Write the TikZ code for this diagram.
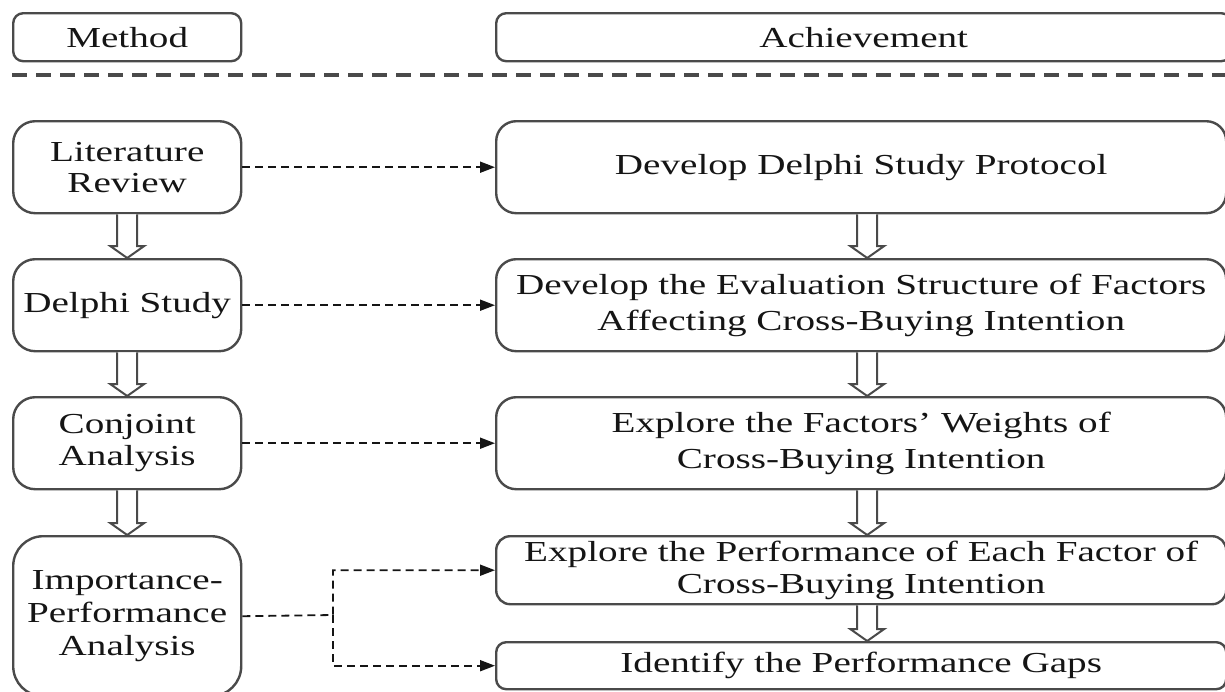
\documentclass[tikz,border=0pt]{standalone}
\usepackage{fontspec}
\setmainfont{Liberation Serif}[FakeStretch=1.35]
\usetikzlibrary{arrows.meta,calc}
\definecolor{bord}{HTML}{4A4A4A}
\definecolor{txt}{HTML}{151515}
\newcommand\blockarr[3][0]{%
  \draw[blk] let \p1=($(#2.south)+(#1,0)$), \p2=(#3.north) in
    (\x1-10pt,\y1) -- (\x1-10pt,\y2+12pt) -- (\x1-17pt,\y2+12pt) -- (\x1,\y2)
    -- (\x1+17pt,\y2+12pt) -- (\x1+10pt,\y2+12pt) -- (\x1+10pt,\y1);}
\begin{document}
\begin{tikzpicture}[x=1pt,y=-1pt,
  box/.style={draw=bord,line width=2.4pt,rounded corners=#1,inner sep=0pt,
    text=txt,align=center,anchor=north west,font=\fontsize{29}{31}\selectfont},
  box/.default=20pt,
  blk/.style={draw=bord,line width=2pt,fill=white,line join=miter},
  dconn/.style={draw=txt,line width=1.8pt,dash pattern=on 8pt off 5pt,
    -{Triangle[length=15pt,width=11pt]}},
  topdash/.style={draw=bord,line width=3.5pt,dash pattern=on 15pt off 9pt}]
\useasboundingbox (0,0) rectangle (1225,691);
% headers
\node[box=10pt,minimum width=228pt,minimum height=48pt] (meth) at (12,12) {Method};
\node[box=10pt,minimum width=735pt,minimum height=48pt] (ach) at (495,12) {Achievement};
\coordinate (dl) at (12,75);
\coordinate (dr) at (1225,75);
\draw[topdash] (dl) -- (dr);
% left column
\node[box=22pt,minimum width=228pt,minimum height=92pt] (lit) at (12,120) {Literature\\Review};
\node[box=22pt,minimum width=228pt,minimum height=92pt] (del) at (12,258) {Delphi Study};
\node[box=22pt,minimum width=228pt,minimum height=92pt,font=\fontsize{29}{32}\selectfont] (con) at (12,396) {Conjoint\\Analysis};
\node[box=30pt,minimum width=228pt,minimum height=160pt,font=\fontsize{29}{33}\selectfont] (ipa) at (12,535) {Importance-\\Performance\\Analysis};
% right column
\node[box=20pt,minimum width=730pt,minimum height=92pt] (p1) at (495,120) {Develop Delphi Study Protocol};
\node[box=20pt,minimum width=730pt,minimum height=92pt,font=\fontsize{29}{36}\selectfont] (p2) at (495,258) {Develop the Evaluation Structure of Factors\\Affecting Cross-Buying Intention};
\node[box=20pt,minimum width=730pt,minimum height=92pt,font=\fontsize{29}{36}\selectfont] (p3) at (495,396) {Explore the Factors’ Weights of\\Cross-Buying Intention};
\node[box=14pt,minimum width=730pt,minimum height=68pt,font=\fontsize{29}{32}\selectfont] (p4) at (495,535) {Explore the Performance of Each Factor of\\Cross-Buying Intention};
\node[box=10pt,minimum width=730pt,minimum height=47pt] (p5) at (495,641) {Identify the Performance Gaps};
% block arrows
\blockarr{lit}{del}
\blockarr{del}{con}
\blockarr{con}{ipa}
\blockarr[6]{p1}{p2}
\blockarr[6]{p2}{p3}
\blockarr[6]{p3}{p4}
\blockarr[6]{p4}{p5}
% dashed connectors
\draw[dconn] (lit.east) -- (p1.west);
\draw[dconn] (del.east) -- (p2.west);
\draw[dconn] (con.east) -- (p3.west);
\coordinate (br) at (333,615);
\draw[dconn] (ipa.east) -- (br) |- (p4.west);
\draw[dconn] (br) |- (p5.west);
\end{tikzpicture}
\end{document}
